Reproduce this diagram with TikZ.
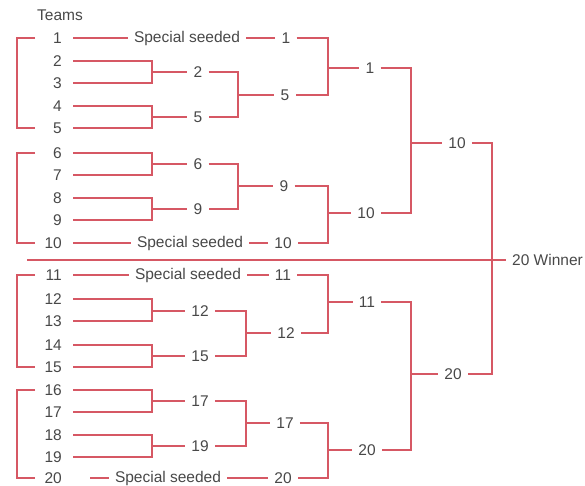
\documentclass[tikz,border=0pt]{standalone}
\usepackage{fontspec}
\setmainfont{Liberation Sans}
\usepackage{xcolor}
\usepackage{tikz}

\definecolor{wirered}{RGB}{214,88,100}
\definecolor{textgray}{RGB}{72,72,72}

\tikzset{
  wire/.style={draw=wirered,line width=1.1pt},
  team/.style={anchor=east,inner xsep=0pt,text=textgray,font=\fontsize{15.5}{18}\selectfont},
  lbl/.style={inner xsep=6pt,text=textgray,font=\fontsize{15.5}{18}\selectfont}
}

\begin{document}
\begin{tikzpicture}[x=1pt,y=-1pt]
			\useasboundingbox (0,0) rectangle (585,486);
			% columns
			\coordinate (bx) at (35,0);
			\coordinate (lx) at (73,0);
			\coordinate (jx1) at (152,0);
			\coordinate (jx2) at (238,0);
			\coordinate (jx2b) at (246,0);
			\coordinate (jx3) at (328,0);
			\coordinate (jx4) at (411,0);
			\coordinate (jx5) at (492,0);
			\coordinate (dl) at (27,260);
			\node[lbl] (hdr) at (60,15) {Teams};
			\foreach \n/\y in {1/38,2/61,3/83,4/106,5/128,6/153,7/175,8/198,9/220,10/243,
				11/275,12/299,13/321,14/345,15/367,16/390,17/412,18/435,19/457,20/478}
				\node[team] (t\n) at (62,\y) {\n};
			% left brackets
			\draw[wire] (t1 -| bx) -- ++(-18,0) |- (t5 -| bx);
			\draw[wire] (t6 -| bx) -- ++(-18,0) |- (t10 -| bx);
			\draw[wire] (t11 -| bx) -- ++(-18,0) |- (t15 -| bx);
			\draw[wire] (t16 -| bx) -- ++(-18,0) |- (t20 -| bx);
			% special seeded
			\node[lbl] (s1) at (187,38) {Special seeded};
			\node[lbl] (s10) at (190,243) {Special seeded};
			\node[lbl] (s11) at (188,275) {Special seeded};
			\node[lbl] (s20) at (168,478) {Special seeded};
			% first round
			\node[lbl] (a2) at (198,72) {2};
			\node[lbl] (a5) at (198,117) {5};
			\node[lbl] (a6) at (198,164) {6};
			\node[lbl] (a9) at (198,209) {9};
			\node[lbl] (a12) at (200,311) {12};
			\node[lbl] (a15) at (200,356) {15};
			\node[lbl] (a17) at (200,401) {17};
			\node[lbl] (a19) at (200,446) {19};
			% second round
			\node[lbl] (b1) at (286,38) {1};
			\node[lbl] (b5) at (285,95) {5};
			\node[lbl] (b9) at (284,186) {9};
			\node[lbl] (b10) at (283,243) {10};
			\node[lbl] (b11) at (283,275) {11};
			\node[lbl] (b12) at (286,333) {12};
			\node[lbl] (b17) at (285,423) {17};
			\node[lbl] (b20) at (283,478) {20};
			% third and fourth round
			\node[lbl] (c1) at (370,68) {1};
			\node[lbl] (c10) at (366,213) {10};
			\node[lbl] (c11) at (367,302) {11};
			\node[lbl] (c20) at (367,450) {20};
			\node[lbl] (d10) at (457,143) {10};
			\node[lbl] (d20) at (453,374) {20};
			\node[lbl,anchor=west] (w) at (506,260) {20 Winner};
			% seeded rows
			\draw[wire] (t1 -| lx) -- (s1);
			\draw[wire] (s1) -- (b1);
			\draw[wire] (t10 -| lx) -- (s10);
			\draw[wire] (s10) -- (b10);
			\draw[wire] (t11 -| lx) -- (s11);
			\draw[wire] (s11) -- (b11);
			\draw[wire] ([xshift=28pt]t20.east) -- (s20);
			\draw[wire] (s20) -- (b20);
			% pairs
			\foreach \p/\q/\r in {2/3/a2,4/5/a5,6/7/a6,8/9/a9,12/13/a12,14/15/a15,16/17/a17,18/19/a19}{
				\draw[wire] (t\p -| lx) -| (\r -| jx1) |- (t\q -| lx);
				\draw[wire] (\r -| jx1) -- (\r);
			}
			\draw[wire] (a2) -| (b5 -| jx2) |- (a5);
			\draw[wire] (b5 -| jx2) -- (b5);
			\draw[wire] (a6) -| (b9 -| jx2) |- (a9);
			\draw[wire] (b9 -| jx2) -- (b9);
			\draw[wire] (a12) -| (b12 -| jx2b) |- (a15);
			\draw[wire] (b12 -| jx2b) -- (b12);
			\draw[wire] (a17) -| (b17 -| jx2b) |- (a19);
			\draw[wire] (b17 -| jx2b) -- (b17);
			\foreach \p/\q/\r in {b1/b5/c1,b9/b10/c10,b11/b12/c11,b17/b20/c20}{
				\draw[wire] (\p) -| (\r -| jx3) |- (\q);
				\draw[wire] (\r -| jx3) -- (\r);
			}
			\draw[wire] (c1) -| (d10 -| jx4) |- (c10);
			\draw[wire] (d10 -| jx4) -- (d10);
			\draw[wire] (c11) -| (d20 -| jx4) |- (c20);
			\draw[wire] (d20 -| jx4) -- (d20);
			% final
			\draw[wire] (d10) -| (w -| jx5) |- (d20);
			\draw[wire] (dl) -- (w);
		\end{tikzpicture}
\end{document}
